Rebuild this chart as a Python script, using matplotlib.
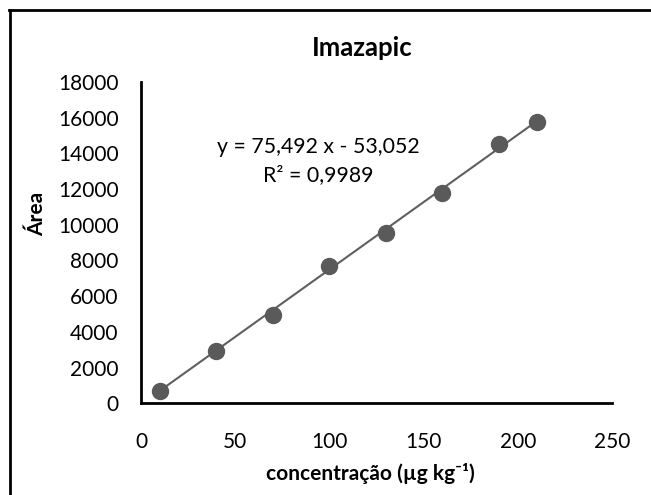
import matplotlib
matplotlib.use("Agg")
import matplotlib.pyplot as plt
from matplotlib.lines import Line2D
from matplotlib.ticker import FixedLocator

plt.rcParams['font.family'] = ['Lato', 'DejaVu Sans']

# Calibration data for imazapic
concentration = [10, 40, 70, 100, 130, 160, 190, 210]
area = [706, 2930, 4947, 7709, 9557, 11798, 14510, 15759]

slope = 75.492
intercept = -53.052
r_squared = 0.9989

x_ticks = [0, 50, 100, 150, 200, 250]
y_ticks = [0, 2000, 4000, 6000, 8000, 10000, 12000, 14000, 16000, 18000]

W, H = 651, 495
fig = plt.figure(figsize=(W / 100, H / 100), dpi=100)


def fx(px):
    return px / W


def fy(py):
    return 1 - py / H


ax = fig.add_axes([fx(141), fy(403.3), fx(612) - fx(141), fy(82) - fy(403.3)])

# Linear trendline from the reported coefficients
x_line = [concentration[0], concentration[-1]]
y_line = [slope * v + intercept for v in x_line]
ax.plot(x_line, y_line, color='#5f5f5f', lw=1.5, zorder=2)

ax.plot(concentration, area, 'o', ms=11.5, color='#5a5a5a', mec='#5a5a5a', zorder=3)

ax.set_xlim(0, 250)
ax.set_ylim(0, 18000)
ax.xaxis.set_major_locator(FixedLocator(x_ticks))
ax.yaxis.set_major_locator(FixedLocator(y_ticks))
ax.tick_params(length=0, labelsize=15, colors='#000000')
ax.tick_params(axis='y', pad=16)
ax.tick_params(axis='x', pad=21)

for side in ('top', 'right'):
    ax.spines[side].set_visible(False)
for side in ('left', 'bottom'):
    ax.spines[side].set_linewidth(2)
    ax.spines[side].set_color('black')

fig.text(fx(362), fy(48), 'Imazapic', ha='center', va='center',
         fontsize=18.5, fontweight='bold')
fig.text(fx(318), fy(147), f'y = {slope:.3f} x - {abs(intercept):.3f}'.replace('.', ','),
         ha='center', va='center', fontsize=15.3)
fig.text(fx(318), fy(175), f'R² = {r_squared:.4f}'.replace('.', ','),
         ha='center', va='center', fontsize=15.3)
fig.text(fx(37), fy(214), 'Área', ha='center', va='center', rotation=90,
         fontsize=15, fontweight='bold')
fig.text(fx(370), fy(474), 'concentração (µg kg⁻¹)', ha='center', va='center',
         fontsize=15, fontweight='bold')

# Chart frame
fig.add_artist(Line2D([fx(10), fx(10)], [fy(10), fy(H + 5)], color='black', lw=2,
                      transform=fig.transFigure))
fig.add_artist(Line2D([fx(9), fx(W + 5)], [fy(10), fy(10)], color='black', lw=2,
                      transform=fig.transFigure))

fig.savefig('out.png', dpi=100)
